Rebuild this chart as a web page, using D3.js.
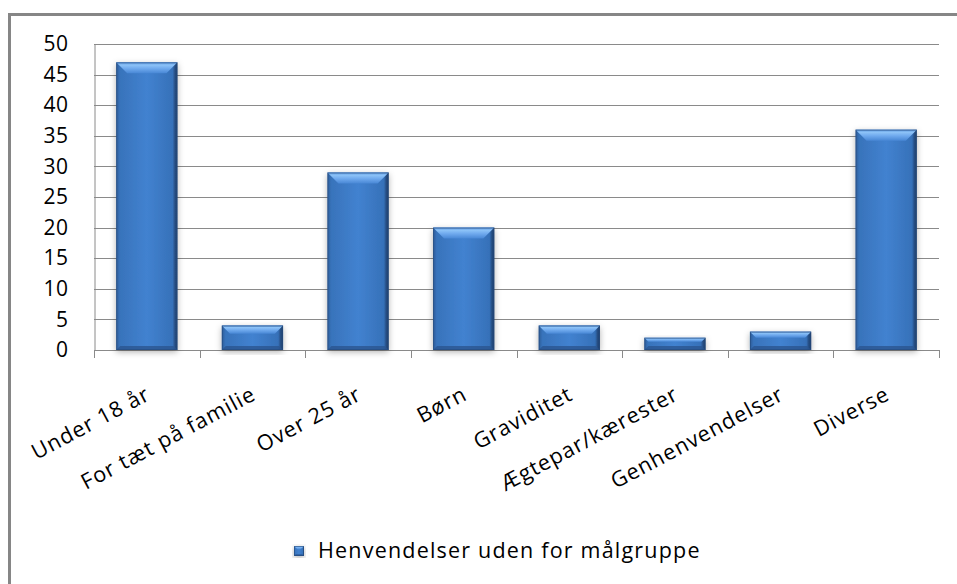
<!DOCTYPE html>
<html>
<head>
<meta charset="utf-8">
<script src="https://cdn.jsdelivr.net/npm/d3@7"></script>
<style>
  body { margin: 0; background: #fff; }
  svg { display: block; font-family: "Open Sans", sans-serif; }
</style>
</head>
<body>
<svg id="chart" width="957" height="584"></svg>
<script>
// data
const categories = [
  "Under 18 år",
  "For tæt på familie",
  "Over 25 år",
  "Børn",
  "Graviditet",
  "Ægtepar/kærester",
  "Genhenvendelser",
  "Diverse",
];
const values = [47, 4, 29, 20, 4, 2, 3, 36];
const yTicks = [0, 5, 10, 15, 20, 25, 30, 35, 40, 45, 50];
const seriesName = "Henvendelser uden for målgruppe";

const svg = d3.select("#chart");

// plot area
const plot = { left: 94, right: 939, top: 44, bottom: 350 };

const y = d3.scaleLinear().domain([0, 50]).range([plot.bottom, plot.top]);
const xCat = d3.scaleBand().domain(categories).range([plot.left, plot.right]);
const xBar = d3
  .scaleBand()
  .domain(categories)
  .range([plot.left, plot.right])
  .paddingInner(0.42)
  .paddingOuter(0.21);

// gradients + shadow
const defs = svg.append("defs");
const sideGrad = defs
  .append("linearGradient")
  .attr("id", "side")
  .attr("x1", 0).attr("x2", 1).attr("y1", 0).attr("y2", 0);
[
  [0, "#2d5c98"],
  [0.06, "#3873bb"],
  [0.5, "#4282d0"],
  [0.92, "#3671b9"],
  [0.96, "#264d82"],
  [1, "#1e3f6c"],
].forEach(([o, c]) => sideGrad.append("stop").attr("offset", o).attr("stop-color", c));

const topGrad = defs
  .append("linearGradient")
  .attr("id", "bevel")
  .attr("x1", 0).attr("x2", 0).attr("y1", 0).attr("y2", 1);
[
  [0, "#5d98e0"],
  [0.25, "#8cc2f7"],
  [0.55, "#70aaee"],
  [1, "#4887d5"],
].forEach(([o, c]) => topGrad.append("stop").attr("offset", o).attr("stop-color", c));

const shadow = defs
  .append("filter")
  .attr("id", "shadow")
  .attr("x", "-20%").attr("y", "-20%").attr("width", "140%").attr("height", "140%");
shadow
  .append("feDropShadow")
  .attr("dx", 0)
  .attr("dy", 2)
  .attr("stdDeviation", 3)
  .attr("flood-color", "#000")
  .attr("flood-opacity", 0.3);

// outer frame
svg
  .append("rect")
  .attr("x", 9.5)
  .attr("y", 14.5)
  .attr("width", 1000)
  .attr("height", 1000)
  .attr("fill", "none")
  .attr("stroke", "#868686")
  .attr("stroke-width", 3);

// gridlines
svg
  .append("g")
  .selectAll("line")
  .data(yTicks)
  .join("line")
  .attr("x1", plot.left)
  .attr("x2", plot.right)
  .attr("y1", (d) => Math.round(y(d)) + 0.5)
  .attr("y2", (d) => Math.round(y(d)) + 0.5)
  .attr("stroke", "#8a8a8a")
  .attr("stroke-width", 1);

// y axis
const yAxis = svg
  .append("g")
  .attr("transform", `translate(${plot.left + 0.5},0)`)
  .call(d3.axisLeft(y).tickValues(yTicks).tickSize(0).tickPadding(26));
yAxis.select(".domain").attr("stroke", "#8a8a8a");
yAxis
  .selectAll("text")
  .attr("font-size", 21)
  .attr("letter-spacing", 0.5)
  .attr("font-family", "Open Sans, sans-serif")
  .attr("fill", "#000");

// x axis line + ticks between categories
const boundaries = categories.map((c) => xCat(c)).concat([plot.right]);
svg
  .append("line")
  .attr("x1", plot.left)
  .attr("x2", plot.right)
  .attr("y1", Math.round(y(0)) + 0.5)
  .attr("y2", Math.round(y(0)) + 0.5)
  .attr("stroke", "#8a8a8a");
svg
  .append("g")
  .selectAll("line")
  .data(boundaries)
  .join("line")
  .attr("x1", (d) => Math.round(d) + 0.5)
  .attr("x2", (d) => Math.round(d) + 0.5)
  .attr("y1", y(0))
  .attr("y2", y(0) + 8)
  .attr("stroke", "#8a8a8a");

// draws one beveled bar into a group
const drawBar = (g, x0, y0, w, h) => {
  const b = Math.min(11, h / 3);
  const s = Math.min(4, w / 6);
  g.append("rect")
    .attr("x", x0).attr("y", y0).attr("width", w).attr("height", h)
    .attr("fill", "url(#side)")
    .attr("filter", "url(#shadow)");
  // top bevel
  g.append("path")
    .attr("d", `M${x0},${y0}H${x0 + w}L${x0 + w - b},${y0 + b}H${x0 + b}Z`)
    .attr("fill", "url(#bevel)");
  // bottom edge darker
  g.append("path")
    .attr("d", `M${x0},${y0 + h}H${x0 + w}L${x0 + w - s},${y0 + h - s}H${x0 + s}Z`)
    .attr("fill", "#2a5590")
    .attr("opacity", 0.8);
  g.append("rect")
    .attr("x", x0 + 0.5).attr("y", y0 + 0.5).attr("width", w - 1).attr("height", h - 1)
    .attr("fill", "none")
    .attr("stroke", "#24497c")
    .attr("stroke-width", 1)
    .attr("opacity", 0.6);
};

// bars
const bars = svg.append("g");
categories.forEach((c, i) => {
  const g = bars.append("g");
  drawBar(g, xBar(c), y(values[i]), xBar.bandwidth(), y(0) - y(values[i]));
});

// category labels
svg
  .append("g")
  .selectAll("text")
  .data(categories)
  .join("text")
  .attr("transform", (d) => `translate(${xCat(d) + xCat.bandwidth() / 2 - 3},384) rotate(-28)`)
  .attr("text-anchor", "end")
  .attr("dy", "0.78em")
  .attr("font-size", 21.5)
  .attr("letter-spacing", 1)
  .attr("fill", "#000")
  .text((d) => d);

// legend
const legend = svg.append("g");
drawBar(legend.append("g"), 294, 546, 10, 10);
legend
  .append("text")
  .attr("x", 318)
  .attr("y", 558)
  .attr("font-size", 21.5)
  .attr("letter-spacing", 1.2)
  .attr("fill", "#000")
  .text(seriesName);
</script>
</body>
</html>
